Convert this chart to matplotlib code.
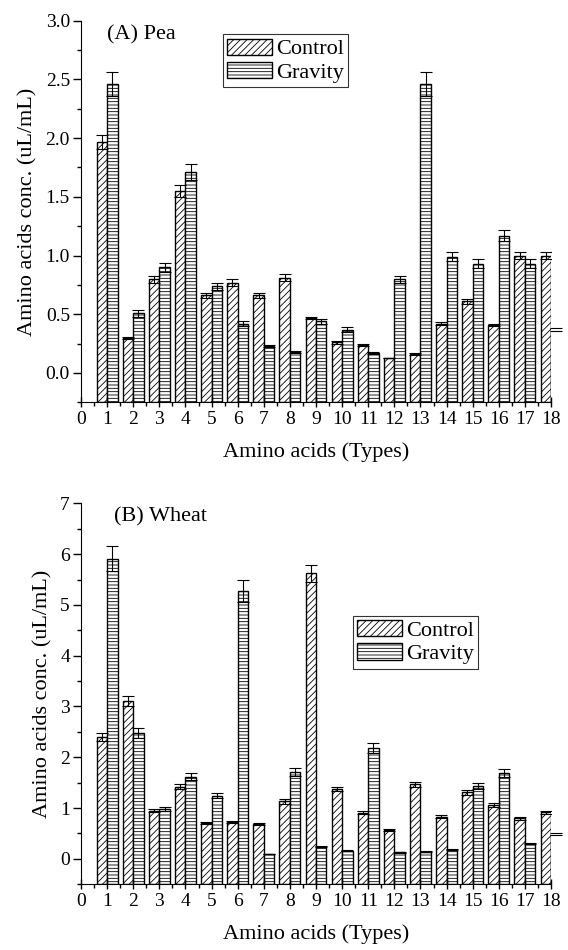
import numpy as np
import matplotlib
matplotlib.use('Agg')
import matplotlib.pyplot as plt
from matplotlib.ticker import MultipleLocator

plt.rcParams['font.family'] = ['Liberation Serif', 'DejaVu Serif']
plt.rcParams['hatch.linewidth'] = 0.6

types = np.arange(1, 19)

# (A) Pea
pea_control = [1.97, 0.30, 0.80, 1.55, 0.66, 0.77, 0.66, 0.81, 0.47,
               0.26, 0.24, 0.13, 0.16, 0.42, 0.61, 0.41, 1.00, 1.00]
pea_control_err = [0.06, 0.01, 0.03, 0.05, 0.02, 0.03, 0.02, 0.03, 0.01,
                   0.01, 0.01, 0.00, 0.01, 0.01, 0.02, 0.01, 0.03, 0.03]
pea_gravity = [2.46, 0.51, 0.90, 1.71, 0.74, 0.42, 0.23, 0.18, 0.44,
               0.37, 0.17, 0.80, 2.46, 0.99, 0.93, 1.17, 0.93, 0.37]
pea_gravity_err = [0.10, 0.03, 0.04, 0.07, 0.03, 0.02, 0.01, 0.01, 0.02,
                   0.02, 0.01, 0.03, 0.10, 0.04, 0.04, 0.05, 0.04, 0.01]

# (B) Wheat
wheat_control = [2.40, 3.10, 0.95, 1.42, 0.70, 0.72, 0.68, 1.13, 5.62,
                 1.37, 0.91, 0.56, 1.47, 0.83, 1.31, 1.06, 0.80, 0.92]
wheat_control_err = [0.08, 0.10, 0.03, 0.05, 0.02, 0.02, 0.02, 0.05, 0.17,
                     0.04, 0.03, 0.02, 0.05, 0.03, 0.05, 0.04, 0.03, 0.03]
wheat_gravity = [5.91, 2.47, 0.99, 1.62, 1.24, 5.28, 0.09, 1.71, 0.24,
                 0.16, 2.18, 0.13, 0.14, 0.18, 1.43, 1.69, 0.30, 0.49]
wheat_gravity_err = [0.24, 0.10, 0.04, 0.07, 0.05, 0.22, 0.00, 0.07, 0.01,
                     0.01, 0.10, 0.01, 0.01, 0.01, 0.06, 0.08, 0.01, 0.02]


def draw_panel(ax, control, control_err, gravity, gravity_err, title, title_pos,
               ylim, major, leg_pos):
    w = 0.4
    base = ylim[0]
    # bars start from the bottom axis line, as in the original plot
    ax.bar(types - w / 2, np.array(control) - base, width=w, bottom=base,
           color='white', edgecolor='black', hatch='/////', linewidth=1.0,
           label='Control')
    ax.bar(types + w / 2, np.array(gravity) - base, width=w, bottom=base,
           color='white', edgecolor='black', hatch='-----', linewidth=1.0,
           label='Gravity')
    ax.errorbar(types - w / 2, control, yerr=control_err, fmt='none',
                ecolor='black', elinewidth=0.8, capsize=4, capthick=0.8)
    eb = ax.errorbar(types + w / 2, gravity, yerr=gravity_err, fmt='none',
                     ecolor='black', elinewidth=0.8, capsize=4, capthick=0.8)
    # the last caps are drawn outside the frame in the original
    for art in eb.lines[1]:
        art.set_clip_on(False)

    ax.set_xlim(0, 18)
    ax.set_ylim(*ylim)
    ax.xaxis.set_major_locator(MultipleLocator(1))
    ax.xaxis.set_minor_locator(MultipleLocator(0.5))
    ax.yaxis.set_major_locator(MultipleLocator(major))
    ax.yaxis.set_minor_locator(MultipleLocator(major / 2))
    if major < 1:
        ax.yaxis.set_major_formatter(lambda v, p: f'{v:.1f}')
    ax.spines['top'].set_visible(False)
    ax.spines['right'].set_visible(False)
    ax.tick_params(axis='x', which='major', direction='inout', length=7, width=1,
                   labelsize=14, pad=3)
    ax.tick_params(axis='x', which='minor', direction='out', length=3, width=1)
    ax.tick_params(axis='y', which='major', direction='out', length=6, width=1,
                   labelsize=14, pad=2)
    ax.tick_params(axis='y', which='minor', direction='out', length=3, width=1)
    ax.set_xlabel('Amino acids (Types)', fontsize=16, labelpad=10)
    ax.set_ylabel('Amino acids conc. (uL/mL)', fontsize=16, labelpad=5.5)
    ax.text(title_pos[0], title_pos[1], title, transform=ax.transAxes,
            fontsize=16, va='center')
    leg = ax.legend(loc='upper left', bbox_to_anchor=leg_pos, fontsize=16,
                    frameon=True, fancybox=False, edgecolor='black',
                    handlelength=2.0, handleheight=0.75, handletextpad=0.2,
                    labelspacing=0.1, borderpad=0.2, borderaxespad=0)
    leg.get_frame().set_linewidth(0.8)


fig = plt.figure(figsize=(5.68, 9.5), dpi=100)
ax1 = fig.add_axes([0.1426, 0.5765, 0.8275, 0.4017])
ax2 = fig.add_axes([0.1426, 0.0692, 0.8275, 0.4010])

draw_panel(ax1, pea_control, pea_control_err, pea_gravity, pea_gravity_err,
           '(A) Pea', (0.055, 0.9625), (-0.25, 3.0), 0.5, (0.3015, 0.965))
draw_panel(ax2, wheat_control, wheat_control_err, wheat_gravity, wheat_gravity_err,
           '(B) Wheat', (0.070, 0.965), (-0.5, 7.0), 1.0, (0.578, 0.705))

fig.savefig('out.png', dpi=100)
